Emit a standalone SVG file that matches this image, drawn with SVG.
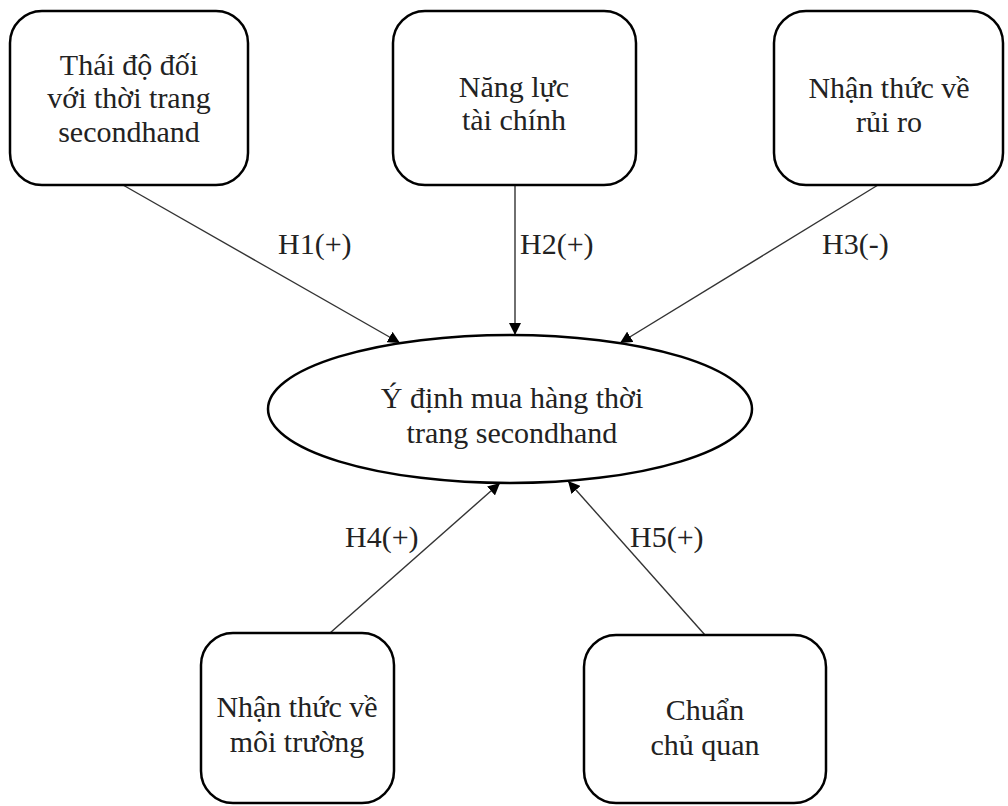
<svg xmlns="http://www.w3.org/2000/svg" width="1008" height="806" viewBox="0 0 1008 806">
  <defs>
    <marker id="arr" viewBox="0 0 12 12" refX="12" refY="6" markerWidth="12" markerHeight="12" markerUnits="userSpaceOnUse" orient="auto">
      <path d="M0,0 L12,6 L0,12 Z" fill="#000"/>
    </marker>
    <style>
      .box { fill: #fff; stroke: #000; stroke-width: 2.5; }
      .t { font-family: "Liberation Serif", "Times New Roman", serif; font-size: 30px; fill: #222; text-anchor: middle; }
      .lbl { font-family: "Liberation Serif", "Times New Roman", serif; font-size: 30px; fill: #222; }
      .edge { stroke: #333; stroke-width: 1.4; fill: none; marker-end: url(#arr); }
    </style>
  </defs>
  <rect width="1008" height="806" fill="#fff"/>
  <g id="connectors">
    <line class="edge" x1="123" y1="185" x2="400" y2="343"/>
    <line class="edge" x1="515" y1="185" x2="515" y2="335"/>
    <line class="edge" x1="878" y1="185" x2="620" y2="343"/>
    <line class="edge" x1="330" y1="633" x2="500" y2="483"/>
    <line class="edge" x1="705" y1="635" x2="568" y2="481"/>
    <text class="lbl" x="278" y="254">H1(+)</text>
    <text class="lbl" x="520" y="254">H2(+)</text>
    <text class="lbl" x="822" y="254">H3(-)</text>
    <text class="lbl" x="345" y="547">H4(+)</text>
    <text class="lbl" x="630" y="547">H5(+)</text>
  </g>
  <g id="n1">
    <rect class="box" x="10" y="11" width="238" height="174" rx="32"/>
    <text class="t" x="129" y="75">Thái độ đối</text>
    <text class="t" x="129" y="108">với thời trang</text>
    <text class="t" x="129" y="142">secondhand</text>
  </g>
  <g id="n2">
    <rect class="box" x="393" y="11" width="243" height="174" rx="32"/>
    <text class="t" x="514" y="97">Năng lực</text>
    <text class="t" x="514" y="130">tài chính</text>
  </g>
  <g id="n3">
    <rect class="box" x="774" y="11" width="229" height="174" rx="32"/>
    <text class="t" x="889" y="98">Nhận thức về</text>
    <text class="t" x="889" y="132">rủi ro</text>
  </g>
  <g id="n0">
    <ellipse class="box" cx="510" cy="409" rx="242" ry="74"/>
    <text class="t" x="512" y="408">Ý định mua hàng thời</text>
    <text class="t" x="512" y="443">trang secondhand</text>
  </g>
  <g id="n4">
    <rect class="box" x="201" y="633" width="193" height="170" rx="32"/>
    <text class="t" x="297" y="717">Nhận thức về</text>
    <text class="t" x="297" y="752">môi trường</text>
  </g>
  <g id="n5">
    <rect class="box" x="584" y="635" width="242" height="168" rx="32"/>
    <text class="t" x="705" y="720">Chuẩn</text>
    <text class="t" x="705" y="755">chủ quan</text>
  </g>
</svg>
